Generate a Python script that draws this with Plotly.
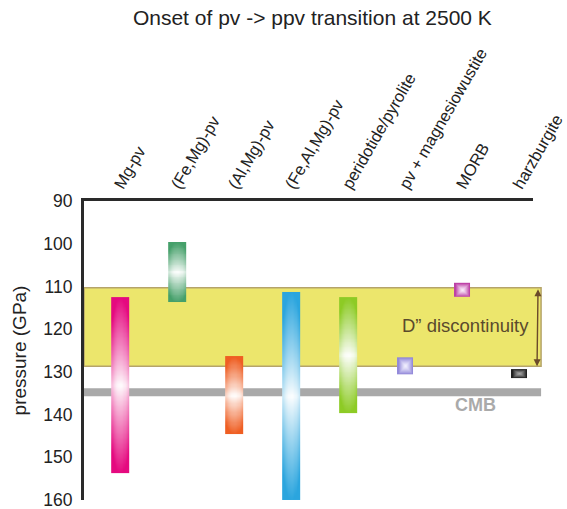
import numpy as np
import plotly.graph_objects as go

# ---------------- data ----------------
materials = ["Mg-pv", "(Fe,Mg)-pv", "(Al,Mg)-pv", "(Fe,Al,Mg)-pv",
             "peridotide/pyrolite", "pv + magnesiowustite", "MORB", "harzburgite"]

# materials given as a pressure range (GPa)
range_names = ["Mg-pv", "(Fe,Mg)-pv", "(Al,Mg)-pv", "(Fe,Al,Mg)-pv", "peridotide/pyrolite"]
range_low = [112.5, 99.6, 126.3, 111.3, 112.5]
range_high = [153.7, 113.6, 144.6, 160.0, 139.6]

# materials given as a single onset pressure (GPa)
point_names = ["pv + magnesiowustite", "MORB", "harzburgite"]
point_values = [128.6, 110.8, 130.4]

d_top, d_bottom = 110.3, 128.7      # D'' discontinuity band (GPa)
cmb_pressure = 134.8                # core-mantle boundary (GPa)

y_ticks = [90, 100, 110, 120, 130, 140, 150, 160]

# ---------------- styles ----------------
range_colors = ["#e5097f", "#45a06a", "#ef5e22", "#2ba5de", "#8dcb25"]
point_colors = ["#8a80d6", "#b8329f", "#141414"]
point_centers = ["#f2f0ff", "#fbeefa", "#a8a8a8"]
bar_halfwidth = 0.155
point_half_sizes = [(0.14, 2.0), (0.14, 1.65), (0.14, 1.05)]   # (x half, y half)
FONT = "Liberation Sans, Arial, Helvetica, sans-serif"


def block(xc, y0, y1, halfw, color, center="#ffffff", kind="bar"):
    nx, ny = 15, 70
    u = (np.arange(nx) + 0.5) / nx * 2 - 1
    v = (np.arange(ny) + 0.5) / ny * 2 - 1
    U, V = np.meshgrid(u, v)
    if kind == "bar":
        z = np.clip(np.abs(V) ** 0.9 + 0.25 * np.abs(U) ** 2, 0, 1)
    else:
        z = np.maximum(np.abs(U), np.abs(V)) ** 1.3
    ym, yh = (y0 + y1) / 2, (y1 - y0) / 2
    return go.Heatmap(x=xc + u * halfw, y=ym + v * yh, z=z,
                      colorscale=[[0, center], [1, color]], zmin=0, zmax=1,
                      showscale=False, zsmooth="best", hoverinfo="skip")


fig = go.Figure()

for name, lo, hi, col in zip(range_names, range_low, range_high, range_colors):
    xi = materials.index(name)
    fig.add_trace(block(xi, lo, hi, bar_halfwidth, col))

for name, val, col, cen, (hx, hy) in zip(point_names, point_values, point_colors,
                                          point_centers, point_half_sizes):
    xi = materials.index(name)
    fig.add_trace(block(xi, val - hy, val + hy, hx, col, cen, kind="square"))

# D'' band and CMB line
fig.add_shape(type="rect", xref="paper", yref="y", x0=0, x1=1.018,
              y0=d_top, y1=d_bottom, fillcolor="#ece66c",
              line=dict(color="#b5a46a", width=1.5), layer="below")
fig.add_shape(type="line", xref="paper", yref="y", x0=0, x1=1.018,
              y0=cmb_pressure, y1=cmb_pressure,
              line=dict(color="#a9a9a9", width=8), layer="below")

# arrow marking the band thickness
fig.add_annotation(x=1.009, y=d_bottom, xref="paper", yref="y",
                   ax=1.009, ay=d_top, axref="pixel", ayref="y",
                   text="", showarrow=True, arrowhead=2, arrowside="end+start",
                   arrowsize=1, arrowwidth=1.4, arrowcolor="#6b4a2a",
                   standoff=0, startstandoff=0)
fig.add_annotation(x=0.85, y=(d_top + d_bottom) / 2 - 0.3, xref="paper", yref="y",
                   xanchor="center", yanchor="middle",
                   text="D\u201d discontinuity", showarrow=False,
                   font=dict(family=FONT, size=18.5, color="#5a4a2c"))
fig.add_annotation(x=0.873, y=cmb_pressure + 2.9, xref="paper", yref="y",
                   xanchor="center", yanchor="middle",
                   text="<b>CMB</b>", showarrow=False,
                   font=dict(family=FONT, size=18, color="#aaaaaa"))

fig.update_layout(
    width=567, height=509,
    margin=dict(l=84, r=34, t=201, b=9, autoexpand=False),
    paper_bgcolor="white", plot_bgcolor="white",
    showlegend=False,
    font=dict(family=FONT, color="#222222"),
    title=dict(text="Onset of pv -> ppv transition at 2500 K",
               x=0.551, xanchor="center", xref="container",
               y=1 - 18 / 509, yanchor="middle", yref="container",
               font=dict(family=FONT, size=21, color="#222222")),
    xaxis=dict(side="top", range=[-0.632, 7.246], tickmode="array",
               tickvals=list(range(len(materials))), ticktext=materials,
               tickangle=-60, ticks="", showgrid=False, zeroline=False,
               showline=True, linecolor="#2a2a2a", linewidth=3,
               ticklabeloverflow="allow", automargin=False,
               ticklabelshift=-4, ticklabelstandoff=-3,
               tickfont=dict(family=FONT, size=16.5, color="#222222")),
    yaxis=dict(range=[160, 90], tickmode="array", tickvals=y_ticks,
               ticks="", showgrid=False, zeroline=False,
               showline=True, linecolor="#2a2a2a", linewidth=3,
               ticklabeloverflow="allow", automargin=False,
               tickfont=dict(family=FONT, size=17.5, color="#222222"),
               ticklabelstandoff=5,
               title=dict(text="pressure (GPa)", standoff=12,
                          font=dict(family=FONT, size=19, color="#222222"))),
)

fig.write_html("out.html")
